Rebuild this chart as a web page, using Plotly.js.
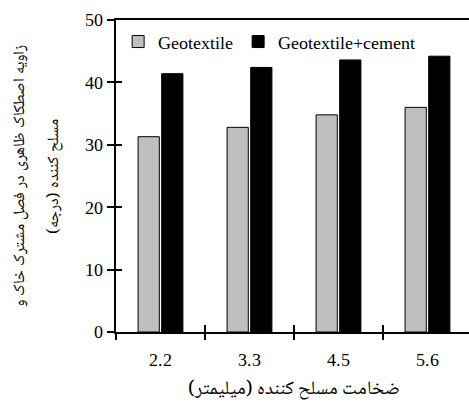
<!DOCTYPE html>
<html>
<head>
<meta charset="utf-8">
<script src="https://cdn.plot.ly/plotly-3.0.1.min.js"></script>
<style>
@font-face { font-family: "LSerif"; src: local("Liberation Serif"), local("LiberationSerif"), local("LiberationSerif-Regular"); }
@font-face { font-family: "ArNaskh"; src: local("Noto Naskh Arabic"), local("NotoNaskhArabic-Regular"); }
html,body{margin:0;padding:0;overflow:hidden;background:#fff;font-family:"LSerif","Liberation Serif",serif;}
#chart{width:472px;height:406px;}
</style>
</head>
<body>
<div id="chart"></div>
<script>
const categories = ["2.2", "3.3", "4.5", "5.6"];
const geotextile = [31.3, 32.8, 34.8, 36.0];
const geotextileCement = [41.4, 42.4, 43.6, 44.2];
const seriesNames = ["Geotextile", "Geotextile+cement"];
const yTitleLine1 = "زاویه اصطکاک ظاهری در فصل مشترک خاک و";
const yTitleLine2 = "مسلح کننده (درجه)";
const xTitle = "ضخامت مسلح کننده (میلیمتر)";

const FONT_LATIN = "LSerif, Liberation Serif, serif";
const FONT_ARABIC = "ArNaskh, LSerif, Liberation Serif, serif";
const INK = "#000";

function draw() {
  const traces = [
    {type: "bar", name: seriesNames[0], x: categories, y: geotextile,
     marker: {color: "#bfbfbf", line: {color: "#000", width: 1}}, hoverinfo: "skip"},
    {type: "bar", name: seriesNames[1], x: categories, y: geotextileCement,
     marker: {color: "#000", line: {color: "#000", width: 1}}, hoverinfo: "skip"},
    {type: "scatter", mode: "none", x: categories, y: geotextile, xaxis: "x2", yaxis: "y2",
     showlegend: false, hoverinfo: "skip"}
  ];

  const layout = {
    width: 472, height: 406,
    margin: {l: 116, r: 0, t: 20, b: 74},
    paper_bgcolor: "#fff", plot_bgcolor: "#fff",
    barmode: "group", bargap: 0.47, bargroupgap: 0.1,
    font: {family: FONT_LATIN, size: 18, color: INK},
    showlegend: true,
    legend: {orientation: "h", x: 0.006, y: 0.93, xanchor: "left", yanchor: "middle",
      font: {family: FONT_LATIN, size: 18, color: INK}, bgcolor: "rgba(0,0,0,0)",
      itemwidth: 30, tracegroupgap: 0},
    xaxis: {type: "category", showline: true, linecolor: "#000", linewidth: 2, mirror: true,
      ticks: "outside", ticklen: 6, tickwidth: 2, tickcolor: "#000", tickson: "boundaries",
      ticklabelstandoff: 10,
      showgrid: false, zeroline: false,
      tickfont: {family: FONT_LATIN, size: 18, color: INK},
      title: {text: xTitle, font: {family: FONT_ARABIC, size: 19, color: INK}, standoff: 26}},
    yaxis: {range: [0, 50], dtick: 10, showline: true, linecolor: "#000", linewidth: 2,
      ticks: "outside", ticklen: 7, tickwidth: 2, tickcolor: "#000",
      showgrid: false, zeroline: false, tickfont: {family: FONT_LATIN, size: 18, color: INK}},
    xaxis2: {type: "category", overlaying: "x", matches: "x", showline: false,
      ticks: "inside", ticklen: 7, tickwidth: 2, tickcolor: "#000", tickson: "boundaries",
      showticklabels: false, showgrid: false, zeroline: false, anchor: "y2"},
    yaxis2: {range: [0, 50], dtick: 10, overlaying: "y", showline: false, anchor: "x2",
      ticks: "inside", ticklen: 6, tickwidth: 2, tickcolor: "#000",
      showticklabels: false, showgrid: false, zeroline: false},
    annotations: [
      {text: yTitleLine1, xref: "paper", yref: "paper", x: -0.27, y: 0.5,
       xanchor: "center", yanchor: "middle", textangle: -90, showarrow: false,
       font: {family: FONT_ARABIC, size: 16, color: INK}},
      {text: yTitleLine2, xref: "paper", yref: "paper", x: -0.175, y: 0.5,
       xanchor: "center", yanchor: "middle", textangle: -90, showarrow: false,
       font: {family: FONT_ARABIC, size: 16, color: INK}}
    ]
  };

  return Plotly.newPlot("chart", traces, layout, {displayModeBar: false, staticPlot: true});
}

function start() {
  draw();
  setTimeout(draw, 250);
}

if (document.fonts && document.fonts.load) {
  const timeout = new Promise(function (res) { setTimeout(res, 800); });
  Promise.race([
    Promise.all([
      document.fonts.load('18px "LSerif"', 'Geotextile 2.2'),
      document.fonts.load('16px "ArNaskh"', 'ضخامت')
    ]).catch(function () {}),
    timeout
  ]).then(start);
} else {
  start();
}
</script>
</body>
</html>
